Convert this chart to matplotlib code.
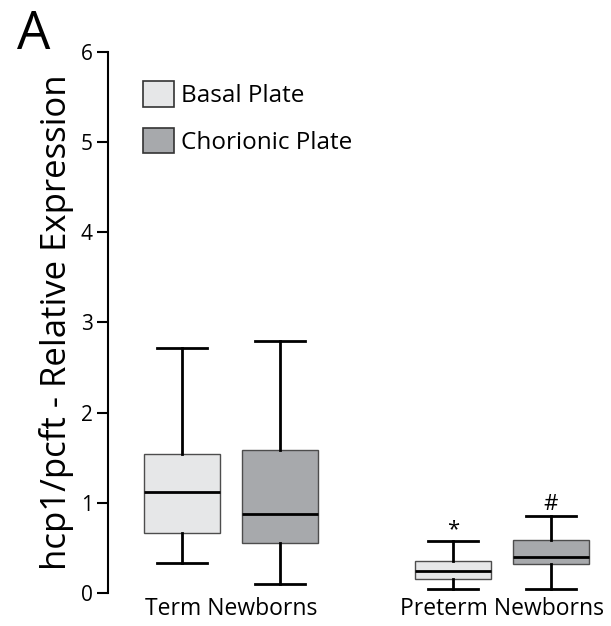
import matplotlib.pyplot as plt
from matplotlib.patches import Patch

plt.rcParams['font.family'] = ['Open Sans', 'DejaVu Sans']

# values
groups = ['Term Newborns', 'Preterm Newborns']
series = ['Basal Plate', 'Chorionic Plate']
colors = ['#e6e7e8', '#a7a9ac']
positions = [0, 1, 2.765, 3.765]

whislo = [0.33, 0.10, 0.04, 0.04]
q1 = [0.66, 0.56, 0.155, 0.32]
med = [1.12, 0.88, 0.244, 0.40]
q3 = [1.54, 1.585, 0.355, 0.584]
whishi = [2.72, 2.80, 0.576, 0.857]

marks = ['', '', '*', '#']

stats = []
for i in range(4):
    stats.append({'whislo': whislo[i], 'q1': q1[i], 'med': med[i],
                  'q3': q3[i], 'whishi': whishi[i], 'fliers': []})

fig = plt.figure(figsize=(6.11, 6.26), dpi=100)
ax = fig.add_axes([0.1768, 0.0527, 0.8108, 0.8643])

bp = ax.bxp(stats, positions=positions, widths=0.776, capwidths=0.52,
            patch_artist=True, showfliers=False,
            boxprops=dict(edgecolor='#4d4d4d', linewidth=1.0),
            whiskerprops=dict(color='black', linewidth=2),
            capprops=dict(color='black', linewidth=2),
            medianprops=dict(color='black', linewidth=2))
for i, b in enumerate(bp['boxes']):
    b.set_facecolor(colors[i % 2])

for i in range(4):
    if marks[i]:
        ax.text(positions[i], whishi[i] + 0.06, marks[i], ha='center', va='baseline',
                fontsize=16)

ax.set_xlim(-0.755, 4.3)
ax.set_ylim(0, 6)
ax.set_yticks(range(7))
ax.tick_params(axis='y', direction='out', length=8, width=1.5, labelsize=15, pad=3)
ax.tick_params(axis='x', length=0)
ax.set_xticks([0.5, 3.265])
ax.set_xticklabels(groups, fontsize=16.5)
ax.tick_params(axis='x', pad=3)
for s in ['top', 'right', 'bottom']:
    ax.spines[s].set_visible(False)
ax.spines['left'].set_linewidth(1.5)

ax.set_ylabel('hcp1/pcft - Relative Expression', fontsize=25, labelpad=5)

handles = [Patch(facecolor=colors[j], edgecolor='#333333', linewidth=1.2) for j in range(2)]
ax.legend(handles, series, loc='upper left', bbox_to_anchor=(0.071, 0.946), frameon=False,
          fontsize=17.5, handlelength=1.25, handleheight=1.25, handletextpad=0.3,
          labelspacing=0.8, borderaxespad=0, borderpad=0)

fig.text(0.028, 0.922, 'A', fontsize=38, va='baseline', ha='left')

fig.savefig('out.png', dpi=100)
